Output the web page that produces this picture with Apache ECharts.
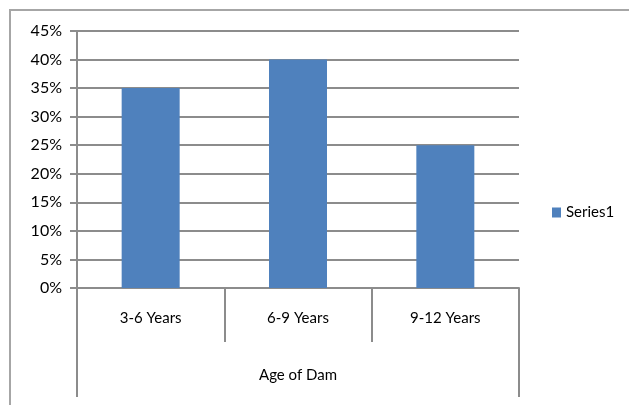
<!DOCTYPE html>
<html>
<head>
<meta charset="utf-8">
<script src="https://cdn.jsdelivr.net/npm/echarts@6/dist/echarts.min.js"></script>
<style>
  html, body { margin: 0; padding: 0; background: #fff; }
  #chart { width: 629px; height: 405px; }
</style>
</head>
<body>
<div id="chart"></div>
<script>
// Share of calvings by age of dam
const categories = ['3-6 Years', '6-9 Years', '9-12 Years'];
const series1 = [0.35, 0.40, 0.25];
const groupLabel = ['Age of Dam'];
const seriesName = 'Series1';

const FONT = 'Lato';
const GRID = '#8c8c8c';

const chart = echarts.init(document.getElementById('chart'), null, { renderer: 'canvas' });

chart.setOption({
  animation: false,
  backgroundColor: '#ffffff',
  textStyle: { fontFamily: FONT },
  graphic: [{
    type: 'rect',
    shape: { x: 10, y: 10, width: 700, height: 500 },
    style: { fill: 'none', stroke: '#a6a6a6', lineWidth: 2 },
    silent: true,
    z: -1
  }],
  grid: { left: 77, right: 110, top: 31, bottom: 117, containLabel: false },
  legend: {
    data: [seriesName],
    orient: 'vertical',
    left: 547,
    top: 200,
    icon: 'rect',
    itemWidth: 9,
    itemHeight: 10,
    itemGap: 5,
    textStyle: { fontFamily: FONT, fontSize: 15, color: '#000' }
  },
  xAxis: [
    {
      type: 'category',
      data: categories,
      position: 'bottom',
      boundaryGap: true,
      axisLine: { show: true, lineStyle: { color: GRID, width: 2 } },
      axisTick: { show: true, inside: false, length: 54, interval: 0, lineStyle: { color: GRID, width: 2 } },
      axisLabel: { margin: 23, fontFamily: FONT, fontSize: 15, color: '#000' },
      splitLine: { show: false }
    },
    {
      type: 'category',
      data: groupLabel,
      position: 'bottom',
      offset: 0,
      boundaryGap: true,
      axisLine: { show: false },
      axisTick: { show: true, inside: false, length: 109, interval: 0, lineStyle: { color: GRID, width: 2 } },
      axisLabel: { margin: 80, fontFamily: FONT, fontSize: 15, color: '#000' },
      splitLine: { show: false }
    }
  ],
  yAxis: {
    type: 'value',
    min: 0,
    max: 0.45,
    interval: 0.05,
    axisLine: { show: true, lineStyle: { color: GRID, width: 2 } },
    axisTick: { show: true, inside: false, length: 7, lineStyle: { color: GRID, width: 2 } },
    axisLabel: {
      margin: 15,
      fontFamily: FONT,
      fontSize: 16,
      color: '#000',
      formatter: v => Math.round(v * 100) + '%'
    },
    splitLine: { show: true, lineStyle: { color: GRID, width: 2 } }
  },
  series: [{
    name: seriesName,
    type: 'bar',
    xAxisIndex: 0,
    data: series1,
    barWidth: 58,
    itemStyle: { color: '#4f81bd' }
  }]
});
</script>
</body>
</html>
